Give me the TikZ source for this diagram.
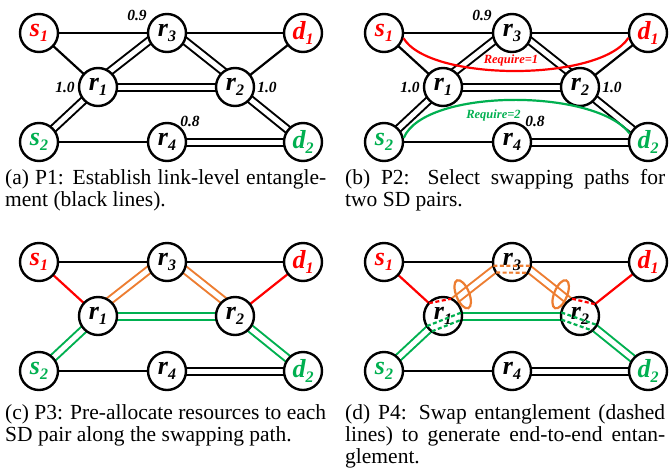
\documentclass[tikz,border=0pt]{standalone}
\usepackage{fontspec}
\setmainfont{Liberation Serif}
\usetikzlibrary{calc,shapes.geometric}
\definecolor{grn}{RGB}{0,176,80}
\definecolor{orng}{RGB}{237,125,49}
\definecolor{rd}{RGB}{255,0,0}
\pgfdeclarelayer{bg}
\pgfdeclarelayer{edges}
\pgfsetlayers{bg,edges,main}
\tikzset{
 nd/.style={circle, draw=black, line width=2.4pt, fill=white, minimum size=38pt, inner sep=0pt},
 sgl/.style={line width=2.2pt},
 dbl/.style={line width=2pt, double=white, double distance=5pt},
 elab/.style={font=\fontsize{15.5}{15.5}\selectfont\bfseries\itshape, inner sep=0pt},
 reqlab/.style={font=\fontsize{12.5}{12.5}\selectfont\bfseries\itshape, inner sep=0pt},
 dsh/.style={line width=2.2pt, dash pattern=on 4pt off 2.5pt},
 captxt/.style={font=\fontsize{21.5}{22}\selectfont, inner sep=0pt, anchor=base west},
 ellmark/.style={ellipse, draw=orng, line width=2.2pt, minimum width=30pt, minimum height=13pt, inner sep=0pt},
}
\newcommand\nlab[3]{\textcolor{#1}{\fontsize{26}{26}\selectfont\bfseries\itshape #2\raisebox{-0.22em}{\fontsize{16}{16}\selectfont #3}}}
\newcommand\mknodes[1]{%
 \node[nd] (#1-s1) at (39,33) {\nlab{rd}{s}{1}};
 \node[nd] (#1-r3) at (167,33) {\nlab{black}{r}{3}};
 \node[nd] (#1-d1) at (303,33) {\nlab{rd}{d}{1}};
 \node[nd] (#1-r1) at (98,87) {\nlab{black}{r}{1}};
 \node[nd] (#1-r2) at (235,87) {\nlab{black}{r}{2}};
 \node[nd] (#1-s2) at (39,142) {\nlab{grn}{s}{2}};
 \node[nd] (#1-r4) at (167,142) {\nlab{black}{r}{4}};
 \node[nd] (#1-d2) at (303,142) {\nlab{grn}{d}{2}};
 \coordinate (#1-A) at ($(#1-r1.center)!5pt!90:(#1-r3.center)$);
 \coordinate (#1-B) at ($(#1-r3.center)!5pt!-90:(#1-r1.center)$);
 \coordinate (#1-C) at ($(#1-r3.center)!5pt!90:(#1-r2.center)$);
 \coordinate (#1-D) at ($(#1-r2.center)!5pt!-90:(#1-r3.center)$);
}
\newcommand\blackedges[1]{%
 \begin{pgfonlayer}{edges}
 \draw[sgl] (#1-s1.center) -- (#1-r3.center);
 \draw[sgl] (#1-r3.center) -- (#1-d1.center);
 \draw[sgl] (#1-s1.center) -- (#1-r1.center);
 \draw[sgl] (#1-d1.center) -- (#1-r2.center);
 \draw[sgl] (#1-s2.center) -- (#1-r4.center);
 \draw[dbl] (#1-A) -- (#1-B);
 \draw[dbl] (#1-C) -- (#1-D);
 \draw[dbl] (#1-r1.center) -- (#1-r2.center);
 \draw[dbl] (#1-s2.center) -- (#1-r1.center);
 \draw[dbl] (#1-r2.center) -- (#1-d2.center);
 \draw[dbl] (#1-r4.center) -- (#1-d2.center);
 \end{pgfonlayer}}
\newcommand\coloredges[1]{%
 \begin{pgfonlayer}{edges}
 \draw[sgl] (#1-s1.center) -- (#1-r3.center);
 \draw[sgl] (#1-r3.center) -- (#1-d1.center);
 \draw[sgl, rd] (#1-s1.center) -- (#1-r1.center);
 \draw[sgl, rd] (#1-d1.center) -- (#1-r2.center);
 \draw[sgl] (#1-s2.center) -- (#1-r4.center);
 \draw[dbl, draw=orng] (#1-A) -- (#1-B);
 \draw[dbl, draw=orng] (#1-C) -- (#1-D);
 \draw[dbl, draw=grn] (#1-r1.center) -- (#1-r2.center);
 \draw[dbl, draw=grn] (#1-s2.center) -- (#1-r1.center);
 \draw[dbl, draw=grn] (#1-r2.center) -- (#1-d2.center);
 \draw[dbl] (#1-r4.center) -- (#1-d2.center);
 \end{pgfonlayer}}
\newcommand\weights[1]{%
 \node[elab] (#1-w1) at (137,15) {0.9};
 \node[elab] (#1-w2) at (65,87) {1.0};
 \node[elab] (#1-w3) at (267,87) {1.0};
 \node[elab] (#1-w4) at (190,121) {0.8};
}
\begin{document}
\begin{tikzpicture}[x=1pt, y=-1pt]
\begin{pgfonlayer}{bg}
\path[fill=white] (0,0) rectangle (671,474);
\end{pgfonlayer}
\useasboundingbox (0,0) rectangle (671,474);

% (a)
\begin{scope}
 \mknodes{a}
 \blackedges{a}
 \weights{a}
\end{scope}

% (b)
\begin{scope}[shift={(345,0)}]
 \mknodes{b}
 \blackedges{b}
 \weights{b}
 \draw[rd, line width=2.2pt] (b-s1.-15) .. controls (85,82) and (255,82) .. (b-d1.194);
 \draw[grn, line width=2.2pt] (b-s2.12) .. controls (80,88) and (250,88) .. (b-d2.155);
 \node[reqlab, text=rd] (b-req1) at (166,60) {Require=1};
 \node[reqlab, text=grn] (b-req2) at (148.5,115) {Require=2};
\end{scope}

% (c)
\begin{scope}[shift={(0,229)}]
 \mknodes{c}
 \coloredges{c}
\end{scope}

% (d)
\begin{scope}[shift={(345,229)}]
 \mknodes{d}
 \coloredges{d}
 \draw[dsh, rd] ($(d-r1)+(137.5:19pt)$) -- ($(d-r1)+(64.9:19pt)$);
 \draw[dsh, grn] ($(d-r1)+(212.1:19pt)$) -- ($(d-r1)+(10.9:19pt)$);
 \draw[dsh, grn] ($(d-r1)+(233.9:19pt)$) -- ($(d-r1)+(-10.9:19pt)$);
 \draw[dsh, rd] ($(d-r2)+(114.6:19pt)$) -- ($(d-r2)+(38.5:19pt)$);
 \draw[dsh, grn] ($(d-r2)+(169.1:19pt)$) -- ($(d-r2)+(-28.1:19pt)$);
 \draw[dsh, grn] ($(d-r2)+(190.9:19pt)$) -- ($(d-r2)+(-49.9:19pt)$);
 \draw[dsh, orng] ($(d-r3)+(191.1:19pt)$) -- ($(d-r3)+(348.4:19pt)$);
 \draw[dsh, orng] ($(d-r3)+(213.8:19pt)$) -- ($(d-r3)+(325.7:19pt)$);
 \node[ellmark, rotate=112] (d-e1) at ($(d-A)!0.33!(d-B)$) {};
 \node[ellmark, rotate=68] (d-e2) at ($(d-D)!0.33!(d-C)$) {};
\end{scope}

% captions
\node[captxt] (capa1) at (5,184) {\makebox[321pt][s]{(a) P1: Establish link-level entangle-}};
\node[captxt] (capa2) at (5,206) {ment (black lines).};
\node[captxt] (capb1) at (345,184) {\makebox[320pt][s]{(b) P2: Select swapping paths for}};
\node[captxt] (capb2) at (345,206) {two SD pairs.};
\node[captxt] (capc1) at (5,419) {\makebox[321pt][s]{(c) P3: Pre-allocate resources to each}};
\node[captxt] (capc2) at (5,441) {SD pair along the swapping path.};
\node[captxt] (capd1) at (345,419) {\makebox[320pt][s]{(d) P4: Swap entanglement (dashed}};
\node[captxt] (capd2) at (345,441) {\makebox[320pt][s]{lines) to generate end-to-end entan-}};
\node[captxt] (capd3) at (345,463) {glement.};
\end{tikzpicture}
\end{document}
